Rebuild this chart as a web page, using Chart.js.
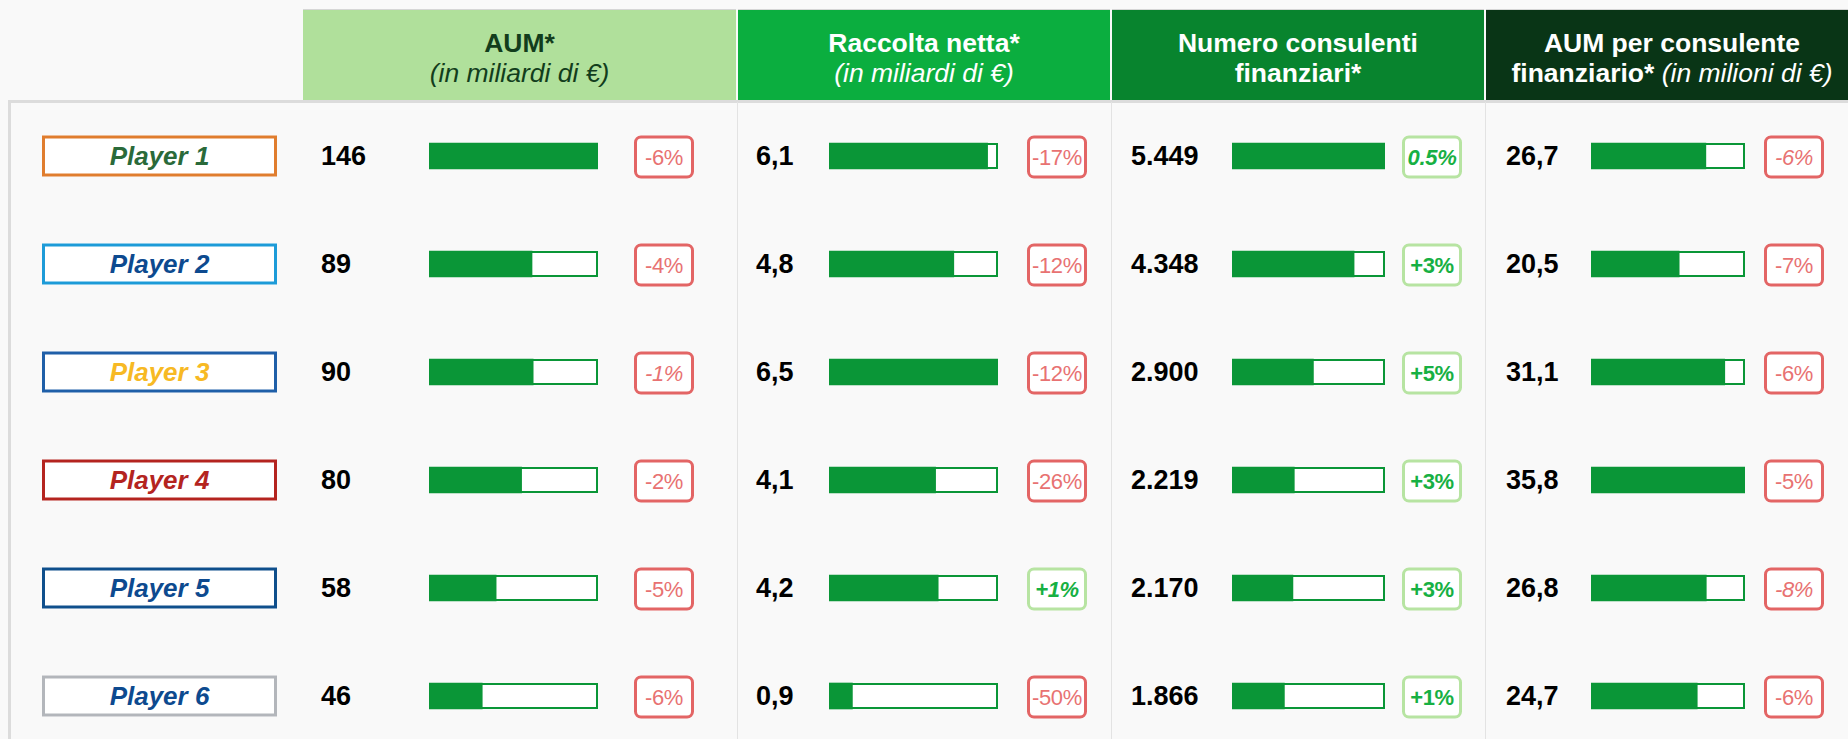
<!DOCTYPE html>
<html><head><meta charset="utf-8">
<script src="https://cdn.jsdelivr.net/npm/chart.js@4.4.1/dist/chart.umd.min.js"></script>
<style>
html,body{margin:0;padding:0;width:1848px;height:739px;overflow:hidden;background:#f9f9f9;font-family:"Liberation Sans",Arial,sans-serif;}
#stage{position:relative;width:1848px;height:739px;overflow:hidden;}
.frame{position:absolute;left:8px;top:100px;width:1860px;height:700px;border-left:3px solid #dcdcdc;border-top:3px solid #dcdcdc;box-sizing:border-box;background:#f9f9f9}
.sep{position:absolute;top:102px;height:640px;width:1px;background:#e3e3e3}
.hdr{position:absolute;top:9px;height:91px;padding-top:5px;display:flex;flex-direction:column;justify-content:center;align-items:center;text-align:center;font-size:26.5px;line-height:30px;border-top:1px solid #d6d6d6;box-sizing:border-box;white-space:nowrap}
.hdr b{font-weight:bold}
.hdr i{font-style:italic;font-weight:normal}
.player{position:absolute;left:42px;width:235px;height:41px;box-sizing:border-box;border:3px solid;background:#fff;display:flex;align-items:center;justify-content:center;font-weight:bold;font-style:italic;font-size:26px;transform:translateY(-50%)}
.val{position:absolute;font-weight:bold;font-size:27px;line-height:30px;transform:translateY(-50%);color:#000}
.badge{position:absolute;width:60px;height:43px;box-sizing:border-box;border:3px solid;border-radius:7px;background:#fff;display:flex;align-items:center;justify-content:center;font-size:22px;transform:translateY(-50%);white-space:nowrap;letter-spacing:-0.3px}
.badge.neg{border-color:#e36565;color:#e87272}
.badge.pos{border-color:#b7e4a2;color:#17b043;font-weight:bold}
.badge.it{font-style:italic}
canvas.bars{position:absolute;top:102px}
</style>
</head>
<body>
<div id="stage">
  <div class="frame"></div>
  <div class="sep" style="left:737px"></div>
  <div class="sep" style="left:1111px"></div>
  <div class="sep" style="left:1485px"></div>
  <div class="hdr" style="left:303px;width:433px;background:#b0e09b;color:#123d1c"><b>AUM*</b><i>(in miliardi di €)</i></div>
  <div class="hdr" style="left:738px;width:372px;background:#0bae3f;color:#fff"><b>Raccolta netta*</b><i>(in miliardi di €)</i></div>
  <div class="hdr" style="left:1112px;width:372px;background:#08842e;color:#fff"><b>Numero consulenti</b><b>finanziari*</b></div>
  <div class="hdr" style="left:1486px;width:372px;background:#093516;color:#fff"><b>AUM per consulente</b><span><b>finanziario*</b> <i>(in milioni di €)</i></span></div>
</div>
<script>
// ---- data ----
const players = ['Player 1','Player 2','Player 3','Player 4','Player 5','Player 6'];
const aum = [146, 89, 90, 80, 58, 46];
const raccolta = [6.1, 4.8, 6.5, 4.1, 4.2, 0.9];
const consulenti = [5449, 4348, 2900, 2219, 2170, 1866];
const aumPerConsulente = [26.7, 20.5, 31.1, 35.8, 26.8, 24.7];
const aumChange = ['-6%','-4%','-1%','-2%','-5%','-6%'];
const raccoltaChange = ['-17%','-12%','-12%','-26%','+1%','-50%'];
const consulentiChange = ['0.5%','+3%','+5%','+3%','+3%','+1%'];
const aumPerConsulenteChange = ['-6%','-7%','-6%','-5%','-8%','-6%'];

// ---- styles ----
const playerText = ['#2a6a3a','#0d4a8f','#f7b924','#b4241f','#0d4a8f','#0d4a8f'];
const playerBorder = ['#e07d2e','#1d9bd8','#1f5fa8','#b4241f','#0f4f8c','#b3b6bb'];
const aumItalic = [false,false,true,false,false,false];
const raccoltaItalic = [false,false,false,false,true,false];
const consulentiItalic = [true,false,false,false,false,false];
const aumPerConsulenteItalic = [true,false,false,false,true,false];

const fmtDec = v => v.toFixed(1).replace('.', ',');
const fmtInt = v => String(v).replace(/\B(?=(\d{3})+(?!\d))/g, '.');

const columns = [
  {values: aum, changes: aumChange, italic: aumItalic, fmt: fmtInt, valLeft: 321, barLeft: 429, barWidth: 169, badgeLeft: 634},
  {values: raccolta, changes: raccoltaChange, italic: raccoltaItalic, fmt: fmtDec, valLeft: 756, barLeft: 829, barWidth: 169, badgeLeft: 1027},
  {values: consulenti, changes: consulentiChange, italic: consulentiItalic, fmt: fmtInt, valLeft: 1131, barLeft: 1232, barWidth: 153, badgeLeft: 1402},
  {values: aumPerConsulente, changes: aumPerConsulenteChange, italic: aumPerConsulenteItalic, fmt: fmtDec, valLeft: 1506, barLeft: 1591, barWidth: 154, badgeLeft: 1764}
];

const GREEN = '#0a9637';
const TOP = 102, HEIGHT = 648;

const trackPlugin = {
  id: 'track',
  beforeDatasetsDraw(chart) {
    const {ctx, chartArea: a} = chart;
    const meta = chart.getDatasetMeta(0);
    ctx.save();
    meta.data.forEach(el => {
      const h = el.height, t = el.y - h / 2;
      ctx.fillStyle = GREEN;
      ctx.fillRect(a.left, t, a.right - a.left, h);
      ctx.fillStyle = '#ffffff';
      ctx.fillRect(a.left + 2, t + 2, a.right - a.left - 4, h - 4);
    });
    ctx.restore();
  }
};

const stage = document.getElementById('stage');
const charts = [];
columns.forEach(col => {
  const cv = document.createElement('canvas');
  cv.className = 'bars';
  cv.width = col.barWidth; cv.height = HEIGHT;
  cv.style.left = col.barLeft + 'px';
  cv.style.width = col.barWidth + 'px';
  cv.style.height = HEIGHT + 'px';
  stage.appendChild(cv);
  const ch = new Chart(cv, {
    type: 'bar',
    data: {
      labels: players,
      datasets: [{data: col.values, backgroundColor: GREEN, borderWidth: 0, barThickness: 26}]
    },
    options: {
      indexAxis: 'y',
      responsive: false,
      animation: false,
      devicePixelRatio: 1,
      layout: {padding: 0},
      plugins: {legend: {display: false}, tooltip: {enabled: false}},
      scales: {
        x: {display: false, min: 0, max: Math.max(...col.values)},
        y: {display: false, offset: true}
      }
    },
    plugins: [trackPlugin]
  });
  charts.push(ch);
});

// player labels from the first chart's category scale
players.forEach((p, i) => {
  const y = TOP + charts[0].scales.y.getPixelForValue(i);
  const d = document.createElement('div');
  d.className = 'player';
  d.textContent = p;
  d.style.top = y + 'px';
  d.style.color = playerText[i];
  d.style.borderColor = playerBorder[i];
  stage.appendChild(d);
});

columns.forEach((col, c) => {
  const ch = charts[c];
  col.values.forEach((v, i) => {
    const y = TOP + ch.scales.y.getPixelForValue(i);
    const t = document.createElement('div');
    t.className = 'val';
    t.textContent = col.fmt(v);
    t.style.left = col.valLeft + 'px';
    t.style.top = y + 'px';
    stage.appendChild(t);
    const b = document.createElement('div');
    const chg = col.changes[i];
    b.className = 'badge ' + (chg.startsWith('-') ? 'neg' : 'pos') + (col.italic[i] ? ' it' : '');
    b.textContent = chg;
    b.style.left = col.badgeLeft + 'px';
    b.style.top = (y + 1) + 'px';
    stage.appendChild(b);
  });
});
</script>
</body></html>
